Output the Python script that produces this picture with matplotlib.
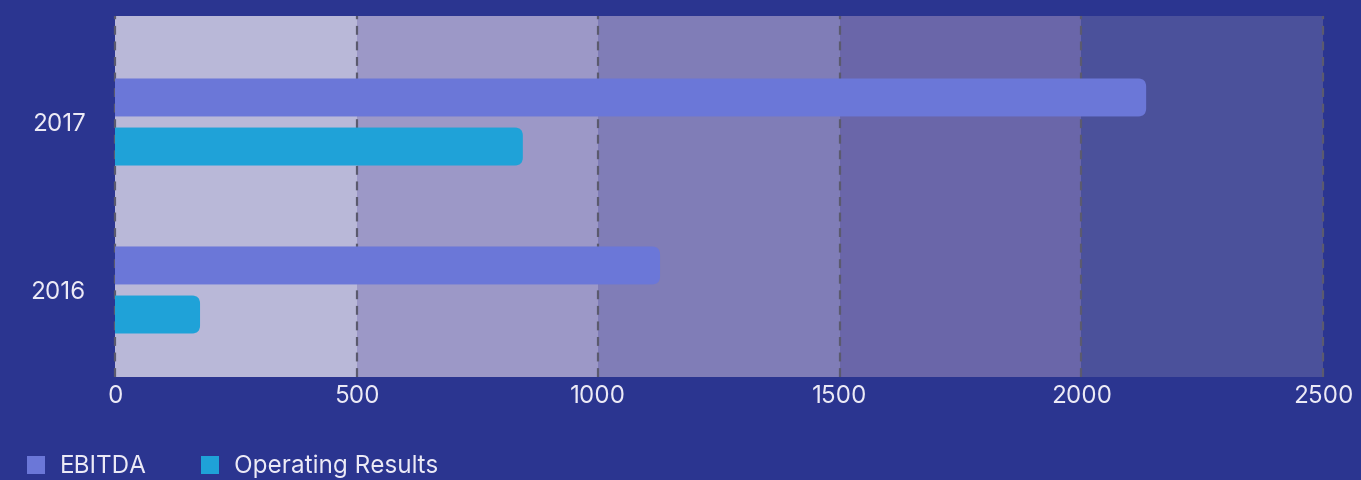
import matplotlib.pyplot as plt
from matplotlib.patches import FancyBboxPatch
import numpy as np

years = ["2016", "2017"]
ebitda = [1128, 2134]
operating = [176, 844]
band_edges = [0, 500, 1000, 1500, 2000, 2500]
band_colors = ["#b9b8d8", "#9c98c7", "#807db7", "#6a66a9", "#4b519b"]

BG = "#2b3590"
TXT = "#eceaf6"
C_EBITDA = "#6b77d8"
C_OPER = "#1fa2d8"


def round_bars(ax, bars, color, r_px=8):
    # swap the square bars for ones with rounded right ends
    x0, x1 = ax.get_xlim()
    y0, y1 = ax.get_ylim()
    bb = ax.get_window_extent()
    ux = (x1 - x0) / bb.width
    uy = (y1 - y0) / bb.height
    r = r_px * ux
    for rect in bars:
        x, y = rect.get_xy()
        w, h = rect.get_width(), rect.get_height()
        p = FancyBboxPatch((x - r, y), w + r, h,
                           boxstyle="round,pad=0,rounding_size=%f" % r,
                           mutation_aspect=uy / ux,
                           facecolor=color, edgecolor="none", zorder=3)
        p.set_clip_path(ax.patch)
        ax.add_patch(p)
        rect.set_visible(False)


def main():
    plt.rcParams['font.family'] = ['Inter', 'DejaVu Sans']
    fig = plt.figure(figsize=(13.61, 4.8), dpi=100, facecolor=BG)
    ax = fig.add_axes([115 / 1361, 103 / 480, 1208 / 1361, 361 / 480])
    ax.set_facecolor(BG)

    y = np.arange(len(years))
    h = 0.226
    off = 0.146
    ax.set_xlim(0, 2500)
    ax.set_ylim(-0.518, 1.631)

    for i in range(len(band_colors)):
        ax.axvspan(band_edges[i], band_edges[i + 1], color=band_colors[i], lw=0, zorder=0)
    for e in band_edges:
        ax.axvline(e, color="#5b5a6e", ls=(0, (4, 3)), lw=1.6, zorder=1, clip_on=False)

    b1 = ax.barh(y + off, ebitda, height=h, color=C_EBITDA, label="EBITDA")
    b2 = ax.barh(y - off, operating, height=h, color=C_OPER, label="Operating Results")

    fs = 17.5
    fig.legend(handles=[b1, b2], labels=["EBITDA", "Operating Results"],
               loc="lower left", bbox_to_anchor=(27 / 1361, 0.004), ncol=2,
               frameon=False, fontsize=fs, labelcolor=TXT,
               borderpad=0, borderaxespad=0,
               handlelength=0.75, handleheight=0.75, handletextpad=0.62,
               columnspacing=2.2)

    round_bars(ax, b1, C_EBITDA)
    round_bars(ax, b2, C_OPER)

    ax.set_yticks(y)
    ax.set_yticklabels(years)
    ax.set_xticks(band_edges)
    ax.tick_params(length=0, colors=TXT, labelsize=fs)
    ax.tick_params(axis="x", pad=6)
    ax.tick_params(axis="y", pad=21)
    for s in ax.spines.values():
        s.set_visible(False)

    fig.savefig("out.png", dpi=100, facecolor=BG)


if __name__ == "__main__":
    main()
